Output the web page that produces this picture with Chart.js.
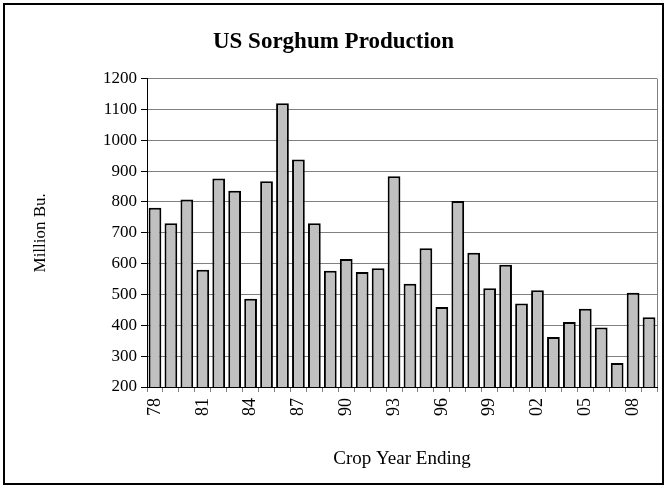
<!DOCTYPE html>
<html>
<head>
<meta charset="utf-8">
<script src="https://cdn.jsdelivr.net/npm/chart.js@4.4.1/dist/chart.umd.min.js"></script>
<style>
html,body{margin:0;padding:0;background:#fff;}
canvas{display:block;}
</style>
</head>
<body>
<canvas id="c" width="667" height="486"></canvas>
<script>
const years = ['78','79','80','81','82','83','84','85','86','87','88','89','90','91','92','93','94','95','96','97','98','99','00','01','02','03','04','05','06','07','08','09'];
const production = [781,731,808,580,876,836,486,867,1120,938,731,577,615,573,585,883,535,650,459,803,635,520,596,471,514,362,411,454,393,278,506,426];
const yTicks = {min:200, max:1200, step:100};
const labelEvery = 3;

const serif = "'Liberation Serif','Times New Roman',serif";

const framePlugin = {
  id:'frame',
  beforeDraw(chart){
    const ctx = chart.ctx;
    ctx.save();
    ctx.fillStyle = '#fff';
    ctx.fillRect(0,0,chart.width,chart.height);
    ctx.strokeStyle = '#000';
    ctx.lineWidth = 2;
    ctx.strokeRect(4,4,chart.width-8,chart.height-6);
    ctx.restore();
  },
  beforeDatasetsDraw(chart){
    const a = chart.chartArea, ctx = chart.ctx;
    ctx.save();
    ctx.strokeStyle = '#808080';
    ctx.lineWidth = 1;
    ctx.beginPath();
    ctx.moveTo(Math.round(a.right)+0.5, a.top);
    ctx.lineTo(Math.round(a.right)+0.5, a.bottom);
    ctx.stroke();
    ctx.restore();
  }
};

new Chart(document.getElementById('c'), {
  type:'bar',
  data:{
    labels: years,
    datasets:[{
      label:'US Sorghum Production',
      data: production,
      backgroundColor:'#C0C0C0',
      borderColor:'#000',
      borderWidth:2,
      barPercentage:0.8,
      categoryPercentage:1.0
    }]
  },
  options:{
    responsive:false,
    animation:false,
    devicePixelRatio:1,
    layout:{padding:{left:10,right:10,top:10,bottom:16}},
    plugins:{
      legend:{display:false},
      tooltip:{enabled:false},
      title:{
        display:true,
        text:'US Sorghum Production',
        color:'#000',
        font:{family:serif,size:23,weight:'bold'},
        padding:{top:18,bottom:23}
      }
    },
    scales:{
      x:{
        grid:{display:true,drawOnChartArea:false,drawTicks:true,tickLength:5,color:'#808080'},
        border:{color:'#000',width:1},
        ticks:{
          autoSkip:false,
          minRotation:90,maxRotation:90,
          color:'#000',
          font:{family:serif,size:18},
          padding:6,
          callback:function(v,i){return i % labelEvery === 0 ? years[i] : '';}
        },
        title:{display:true,text:'Crop Year Ending',color:'#000',font:{family:serif,size:19},padding:{top:0,bottom:0}},
        afterFit(s){s.height = 83; s.paddingLeft = 0; s.paddingRight = 0;}
      },
      y:{
        min:yTicks.min,max:yTicks.max,
        grid:{color:'#808080',tickColor:'#000',tickLength:6},
        border:{color:'#000',width:1},
        ticks:{stepSize:yTicks.step,color:'#000',font:{family:serif,size:17},padding:4,
          callback:function(v){return String(v);}},
        title:{display:true,text:'Million Bu.',color:'#000',font:{family:serif,size:17},padding:{top:20,bottom:0}},
        afterFit(s){s.width = 137;}
      }
    }
  },
  plugins:[framePlugin]
});
</script>
</body>
</html>
